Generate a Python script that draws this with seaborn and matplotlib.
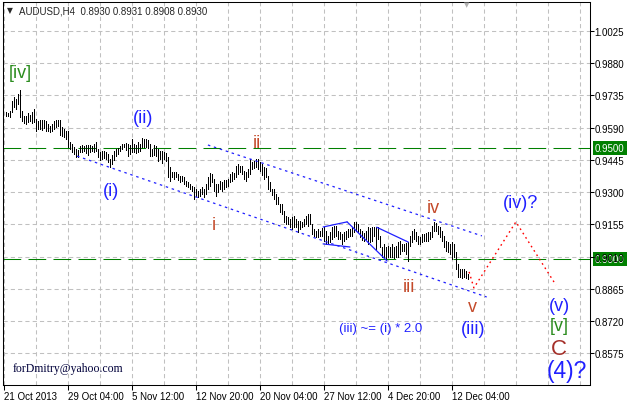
import numpy as np
import pandas as pd
import matplotlib
matplotlib.use("Agg")
import matplotlib.pyplot as plt
from matplotlib.ticker import FormatStrFormatter, MultipleLocator
import seaborn as sns

# ==========================================
# データ（チャートから読み取った値）
# ==========================================
SYMBOL = "AUDUSD,H4"
LAST_OHLC = [0.8930, 0.8931, 0.8908, 0.8930]

# H4 bars, high / low (bar 1 .. 232)
BAR_HIGH = [
    0.9661, 0.9656, 0.9665, 0.9710, 0.9728, 0.9719, 0.9742, 0.9760, 0.9665, 0.9643,
    0.9643, 0.9656, 0.9647, 0.9661, 0.9674, 0.9629, 0.9620, 0.9625, 0.9625, 0.9625,
    0.9620, 0.9607, 0.9598, 0.9607, 0.9620, 0.9625, 0.9625, 0.9625, 0.9593, 0.9584,
    0.9575, 0.9575, 0.9526, 0.9517, 0.9503, 0.9494, 0.9490, 0.9508, 0.9512, 0.9508,
    0.9512, 0.9512, 0.9512, 0.9508, 0.9517, 0.9526, 0.9494, 0.9481, 0.9485, 0.9485,
    0.9481, 0.9472, 0.9449, 0.9467, 0.9485, 0.9494, 0.9499, 0.9508, 0.9517, 0.9517,
    0.9521, 0.9517, 0.9512, 0.9539, 0.9517, 0.9512, 0.9526, 0.9517, 0.9544, 0.9539,
    0.9539, 0.9535, 0.9517, 0.9494, 0.9512, 0.9508, 0.9494, 0.9485, 0.9485, 0.9481,
    0.9476, 0.9458, 0.9413, 0.9391, 0.9391, 0.9391, 0.9382, 0.9373, 0.9373, 0.9368,
    0.9350, 0.9346, 0.9337, 0.9328, 0.9323, 0.9314, 0.9305, 0.9314, 0.9323, 0.9314,
    0.9337, 0.9368, 0.9386, 0.9382, 0.9359, 0.9337, 0.9337, 0.9350, 0.9346, 0.9355,
    0.9355, 0.9359, 0.9382, 0.9391, 0.9386, 0.9418, 0.9427, 0.9418, 0.9418, 0.9395,
    0.9391, 0.9404, 0.9449, 0.9436, 0.9440, 0.9449, 0.9449, 0.9436, 0.9427, 0.9413,
    0.9409, 0.9373, 0.9346, 0.9314, 0.9314, 0.9292, 0.9278, 0.9247, 0.9247, 0.9215,
    0.9193, 0.9188, 0.9179, 0.9188, 0.9193, 0.9179, 0.9170, 0.9170, 0.9166, 0.9179,
    0.9193, 0.9202, 0.9202, 0.9157, 0.9134, 0.9125, 0.9134, 0.9125, 0.9139, 0.9143,
    0.9125, 0.9103, 0.9121, 0.9143, 0.9148, 0.9148, 0.9125, 0.9121, 0.9112, 0.9121,
    0.9125, 0.9134, 0.9134, 0.9143, 0.9166, 0.9166, 0.9157, 0.9134, 0.9125, 0.9116,
    0.9125, 0.9143, 0.9139, 0.9143, 0.9143, 0.9143, 0.9143, 0.9103, 0.9053, 0.9067,
    0.9053, 0.9058, 0.9053, 0.9067, 0.9053, 0.9058, 0.9076, 0.9080, 0.9067, 0.9067,
    0.9071, 0.9076, 0.9103, 0.9125, 0.9134, 0.9121, 0.9103, 0.9098, 0.9112, 0.9112,
    0.9116, 0.9121, 0.9121, 0.9148, 0.9166, 0.9161, 0.9148, 0.9143, 0.9125, 0.9103,
    0.9080, 0.9076, 0.9067, 0.9076, 0.9067, 0.9031, 0.8977, 0.8954, 0.8954, 0.8954,
    0.8945, 0.8931,
]
BAR_LOW = [
    0.9643, 0.9643, 0.9638, 0.9661, 0.9683, 0.9674, 0.9697, 0.9638, 0.9620, 0.9611,
    0.9607, 0.9616, 0.9620, 0.9611, 0.9616, 0.9575, 0.9584, 0.9584, 0.9580, 0.9589,
    0.9575, 0.9575, 0.9571, 0.9575, 0.9584, 0.9593, 0.9598, 0.9557, 0.9553, 0.9548,
    0.9539, 0.9503, 0.9494, 0.9481, 0.9472, 0.9458, 0.9458, 0.9481, 0.9481, 0.9485,
    0.9476, 0.9467, 0.9481, 0.9485, 0.9481, 0.9485, 0.9458, 0.9445, 0.9449, 0.9454,
    0.9449, 0.9436, 0.9413, 0.9427, 0.9445, 0.9463, 0.9472, 0.9485, 0.9494, 0.9503,
    0.9490, 0.9463, 0.9472, 0.9481, 0.9481, 0.9476, 0.9481, 0.9485, 0.9503, 0.9503,
    0.9503, 0.9499, 0.9463, 0.9463, 0.9467, 0.9463, 0.9440, 0.9449, 0.9431, 0.9449,
    0.9440, 0.9368, 0.9350, 0.9368, 0.9359, 0.9368, 0.9355, 0.9346, 0.9350, 0.9337,
    0.9328, 0.9323, 0.9314, 0.9305, 0.9269, 0.9283, 0.9278, 0.9283, 0.9292, 0.9278,
    0.9292, 0.9314, 0.9328, 0.9346, 0.9305, 0.9283, 0.9301, 0.9314, 0.9305, 0.9314,
    0.9323, 0.9328, 0.9346, 0.9350, 0.9359, 0.9368, 0.9382, 0.9391, 0.9382, 0.9359,
    0.9350, 0.9368, 0.9382, 0.9404, 0.9409, 0.9413, 0.9404, 0.9395, 0.9377, 0.9359,
    0.9368, 0.9314, 0.9305, 0.9287, 0.9269, 0.9247, 0.9247, 0.9211, 0.9202, 0.9166,
    0.9157, 0.9157, 0.9143, 0.9134, 0.9143, 0.9143, 0.9121, 0.9134, 0.9143, 0.9148,
    0.9157, 0.9148, 0.9157, 0.9112, 0.9103, 0.9098, 0.9098, 0.9103, 0.9103, 0.9080,
    0.9067, 0.9067, 0.9076, 0.9089, 0.9098, 0.9103, 0.9089, 0.9089, 0.9067, 0.9080,
    0.9089, 0.9098, 0.9103, 0.9103, 0.9121, 0.9125, 0.9121, 0.9098, 0.9085, 0.9080,
    0.9089, 0.9067, 0.9076, 0.9080, 0.9103, 0.9044, 0.9089, 0.9053, 0.9008, 0.9008,
    0.8999, 0.9008, 0.9008, 0.9008, 0.9004, 0.9008, 0.9008, 0.9022, 0.9035, 0.9035,
    0.9022, 0.8990, 0.9058, 0.9076, 0.9089, 0.9080, 0.9067, 0.9067, 0.9076, 0.9080,
    0.9080, 0.9080, 0.9089, 0.9098, 0.9125, 0.9125, 0.9112, 0.9098, 0.9080, 0.9053,
    0.9035, 0.9031, 0.9022, 0.8999, 0.9008, 0.8954, 0.8918, 0.8918, 0.8914, 0.8918,
    0.8914, 0.8908,
]

PRICE_TICKS = [1.0025, 0.9880, 0.9735, 0.9590, 0.9445, 0.9300,
               0.9155, 0.9010, 0.8865, 0.8720, 0.8575]
DATE_TICK_BARS = [0, 32, 64, 96, 128, 160, 192, 224]
DATE_TICK_LABELS = ["21 Oct 2013", "29 Oct 04:00", "5 Nov 12:00", "12 Nov 20:00",
                    "20 Nov 04:00", "27 Nov 12:00", "4 Dec 20:00", "12 Dec 04:00"]
LEVEL_PRICES = [0.9500, 0.9000]

# トレンドチャネル（点線）
LOWER_CH_BAR = [36.8, 241.6]
LOWER_CH_PRICE = [0.9462, 0.8828]
UPPER_CH_BAR = [102.2, 239.2]
UPPER_CH_PRICE = [0.9512, 0.9103]

# 小さなウェッジ（実線）
WEDGE_SEG = ["a", "a", "b", "b", "c", "c", "d", "d"]
WEDGE_BAR = [159.8, 171.8, 159.8, 173.2, 171.8, 191.8, 186.6, 202.4]
WEDGE_PRICE = [0.9143, 0.9166, 0.9067, 0.9053, 0.9166, 0.8990, 0.9142, 0.9075]

# 予測パス（赤点線）
FORECAST_BAR = [232.8, 235.2, 256.2, 276.2]
FORECAST_PRICE = [0.8941, 0.8869, 0.9166, 0.8882]

# ==========================================
# 描画
# ==========================================
sns.set_style("white")
plt.rcParams['font.family'] = ['Liberation Sans', 'DejaVu Sans']

W, H = 627, 402
BLUE = '#2020ff'
RED = '#c44a2a'
GREEN = '#2b8c1e'
BROWN = '#a5302a'


def fx(x):
    return x / W


def fy(y):
    return 1 - y / H


fig = plt.figure(figsize=(W / 100, H / 100), dpi=100)
ax = fig.add_axes([3 / W, 1 - 386 / H, 587 / W, 383 / H])

bars = pd.DataFrame({"bar": np.arange(1, len(BAR_HIGH) + 1),
                     "high": BAR_HIGH, "low": BAR_LOW})
ax.vlines(bars["bar"], bars["low"], bars["high"], colors="black",
          linewidth=0.6, antialiased=False, snap=True, zorder=3)

for lvl in LEVEL_PRICES:
    ax.axhline(lvl, color="#008000", linewidth=0.75, dashes=(17, 7), zorder=2)

sns.lineplot(x=LOWER_CH_BAR, y=LOWER_CH_PRICE, ax=ax, color=BLUE,
             linewidth=0.9, linestyle=(0, (2, 3)), zorder=4)
sns.lineplot(x=UPPER_CH_BAR, y=UPPER_CH_PRICE, ax=ax, color=BLUE,
             linewidth=0.9, linestyle=(0, (2, 3)), zorder=4)
wedge = pd.DataFrame({"seg": WEDGE_SEG, "bar": WEDGE_BAR, "price": WEDGE_PRICE})
sns.lineplot(data=wedge, x="bar", y="price", units="seg", estimator=None,
             ax=ax, color=BLUE, linewidth=0.9, zorder=4)
sns.lineplot(x=FORECAST_BAR, y=FORECAST_PRICE, ax=ax, color="red",
             linewidth=1.0, linestyle=(0, (1.2, 2.5)), zorder=4)

ax.set_xlabel("")
ax.set_ylabel("")
ax.set_xlim(-0.25, 293.25)
ax.set_ylim(0.8432, 1.01555)

# 軸・グリッド
ax.yaxis.tick_right()
ax.set_yticks(PRICE_TICKS)
ax.yaxis.set_major_formatter(FormatStrFormatter("%.4f"))
ax.set_xticks(DATE_TICK_BARS)
ax.set_xticklabels(DATE_TICK_LABELS, ha="left")
ax.xaxis.set_minor_locator(MultipleLocator(16))
ax.tick_params(axis="y", which="major", direction="out", length=2.9, width=0.75,
               pad=0.3, labelsize=7, right=True, left=False,
               labelright=True, labelleft=False, colors="black")
ax.tick_params(axis="x", which="major", direction="out", length=3.5, width=0.75,
               pad=0.5, labelsize=7, bottom=True, colors="black")
ax.tick_params(axis="x", which="minor", length=0)
ax.grid(True, which="both", axis="x", color="#c0c0c0", linewidth=0.75,
        linestyle=(0, (4, 3)))
ax.grid(True, which="major", axis="y", color="#c0c0c0", linewidth=0.75,
        linestyle=(0, (4, 3)))
for sp in ax.spines.values():
    sp.set_color("black")
    sp.set_linewidth(0.75)

# 水平線の価格ラベル（緑）
for lvl in LEVEL_PRICES:
    ax.text(1.0085, lvl, f"{lvl:.4f}", transform=ax.get_yaxis_transform(),
            fontsize=7, color="white", ha="left", va="center", clip_on=False,
            zorder=0.4,
            bbox=dict(boxstyle="square,pad=0.2", fc="#008000", ec="none"))

# タイトル
fig.text(fx(7), fy(11), "\u25bc", fontsize=5.5, va="center", ha="left",
         family=["DejaVu Sans"])
fig.text(fx(19), fy(14), SYMBOL + "  " + " ".join(f"{v:.4f}" for v in LAST_OHLC),
         fontsize=7, va="baseline", ha="left")
fig.text(fx(467), fy(5), "\u25bc", fontsize=5, va="center", ha="center",
         color="#b0b0b0", family=["DejaVu Sans"])

# 波動ラベル
wave_labels = [
    ("[iv]", 20, 78, GREEN, 13),
    ("(ii)", 143, 123, BLUE, 13),
    ("(i)", 111, 196, BLUE, 13),
    ("i", 214, 230, RED, 13),
    ("ii", 257, 148, RED, 13),
    ("iii", 409, 292, RED, 13),
    ("iv", 433, 213, RED, 13),
    ("v", 472, 312, RED, 13),
    ("(iii)", 473, 334, BLUE, 13),
    ("(iv)?", 521, 208, BLUE, 13),
    ("(v)", 559, 311, BLUE, 13),
    ("[v]", 559, 331, GREEN, 13),
    ("C", 559, 355, BROWN, 16),
    ("(4)?", 567, 378, BLUE, 16.5),
    ("(iii) ~= (i) * 2.0", 381, 332, BLUE, 9.5),
]
for txt, x, y, col, size in wave_labels:
    fig.text(fx(x), fy(y), txt, color=col, fontsize=size,
             ha="center", va="baseline")

fig.text(fx(13), fy(372), "forDmitry@yahoo.com", fontsize=8.5, color="#00003a",
         ha="left", va="baseline", family=["Liberation Serif", "DejaVu Serif"])

fig.savefig("out.png", dpi=100)
plt.close(fig)
